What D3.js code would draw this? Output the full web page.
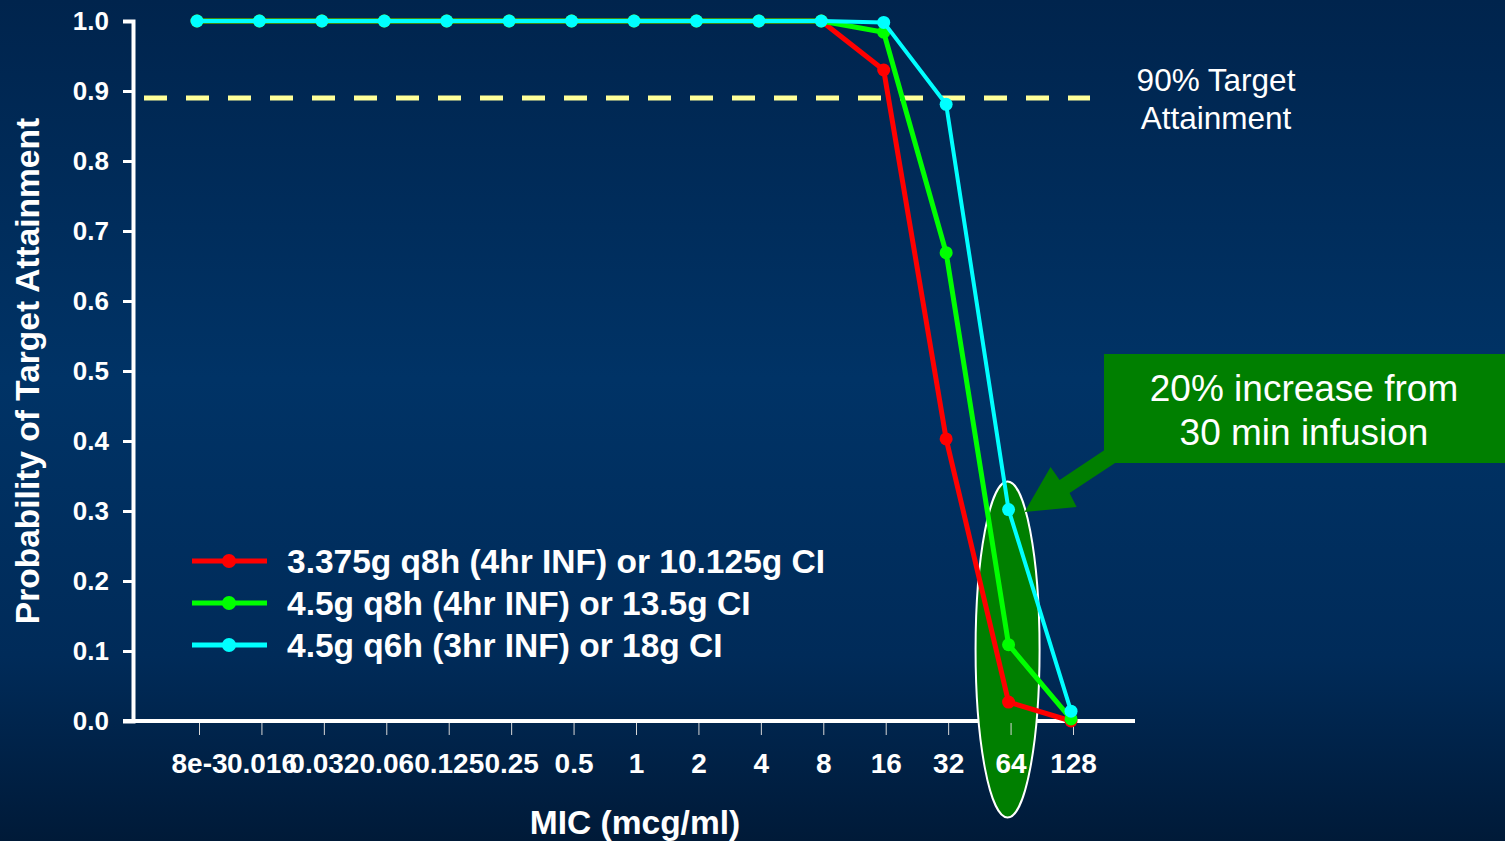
<!DOCTYPE html>
<html>
<head>
<meta charset="utf-8">
<script src="https://cdn.jsdelivr.net/npm/d3@7"></script>
<style>
  html, body { margin: 0; padding: 0; overflow: hidden; }
  svg { display: block; font-family: "Liberation Sans", Arial, sans-serif; }
</style>
</head>
<body>
<div id="chart"></div>
<script>
// MIC categories (x axis)
var micLabels = ["8e-3", "0.016", "0.032", "0.06", "0.125", "0.25", "0.5", "1", "2", "4", "8", "16", "32", "64", "128"];

// probability of target attainment per regimen
var red_values   = [1, 1, 1, 1, 1, 1, 1, 1, 1, 1, 1, 0.93, 0.403, 0.027, 0.0];
var green_values = [1, 1, 1, 1, 1, 1, 1, 1, 1, 1, 1, 0.984, 0.669, 0.109, 0.003];
var cyan_values  = [1, 1, 1, 1, 1, 1, 1, 1, 1, 1, 1, 0.998, 0.881, 0.302, 0.014];

var seriesNames = ["3.375g q8h (4hr INF) or 10.125g CI", "4.5g q8h (4hr INF) or 13.5g CI", "4.5g q6h (3hr INF) or 18g CI"];
var seriesColors = ["#ff0000", "#00ff00", "#00ffff"];
var seriesWidths = [5, 5, 4];

var yTicks = [0, 0.1, 0.2, 0.3, 0.4, 0.5, 0.6, 0.7, 0.8, 0.9, 1.0];
var targetLevel = 0.89;

var width = 1505, height = 841;

var svg = d3.select("#chart").append("svg")
  .attr("width", width)
  .attr("height", height);

// background gradient
var defs = svg.append("defs");
var grad = defs.append("linearGradient")
  .attr("id", "bg").attr("x1", 0).attr("y1", 0).attr("x2", 0).attr("y2", 1);
grad.append("stop").attr("offset", "0%").attr("stop-color", "#00244d");
grad.append("stop").attr("offset", "45%").attr("stop-color", "#003366");
grad.append("stop").attr("offset", "78%").attr("stop-color", "#002b59");
grad.append("stop").attr("offset", "100%").attr("stop-color", "#001a38");
svg.append("rect").attr("width", width).attr("height", height).attr("fill", "url(#bg)");

// scales
var x = d3.scalePoint().domain(micLabels).range([197, 1071]);
var y = d3.scaleLinear().domain([0, 1]).range([721, 21]);
var axisX = 133;

// y axis
var yAxis = svg.append("g")
  .attr("transform", "translate(" + axisX + ",0)")
  .call(d3.axisLeft(y).tickValues(yTicks).tickSize(10).tickPadding(14).tickFormat(d3.format(".1f")));
yAxis.select(".domain").attr("stroke", "#fff").attr("stroke-width", 4);
yAxis.selectAll(".tick line").attr("stroke", "#fff").attr("stroke-width", 3);
yAxis.selectAll(".tick text")
  .attr("fill", "#fff")
  .style("font-size", "26px")
  .style("font-weight", "bold")
  .style("font-family", "'Liberation Sans', Arial, sans-serif");

// x axis base line
svg.append("line")
  .attr("x1", axisX - 10).attr("x2", x(micLabels[micLabels.length - 1]) + 64)
  .attr("y1", y(0)).attr("y2", y(0))
  .attr("stroke", "#fff").attr("stroke-width", 4);

// highlight ellipse around MIC 64
svg.append("ellipse")
  .attr("cx", x("64") - 1)
  .attr("cy", y(0.102))
  .attr("rx", 32)
  .attr("ry", 168)
  .attr("fill", "#007f00")
  .attr("stroke", "#fff")
  .attr("stroke-width", 2);

// x axis ticks + labels
var xAxis = svg.append("g")
  .attr("transform", "translate(2," + (y(0) + 2) + ")")
  .call(d3.axisBottom(x).tickSize(12).tickSizeOuter(0).tickPadding(18));
xAxis.select(".domain").remove();
xAxis.selectAll(".tick line").attr("stroke", "#d8d8d8").attr("stroke-width", 1);
xAxis.selectAll(".tick text")
  .attr("fill", "#fff")
  .style("font-size", "28px")
  .style("font-weight", "bold")
  .style("font-family", "'Liberation Sans', Arial, sans-serif");

// axis titles
svg.append("text")
  .attr("transform", "translate(39," + y(0.5) + ") rotate(-90)")
  .attr("text-anchor", "middle")
  .attr("fill", "#fff")
  .style("font-size", "33.5px")
  .style("font-weight", "bold")
  .text("Probability of Target Attainment");

svg.append("text")
  .attr("x", 635)
  .attr("y", 834)
  .attr("text-anchor", "middle")
  .attr("fill", "#fff")
  .style("font-size", "33.5px")
  .style("font-weight", "bold")
  .text("MIC (mcg/ml)");

// 90% target line
svg.append("line")
  .attr("x1", 144).attr("x2", 1090)
  .attr("y1", y(targetLevel)).attr("y2", y(targetLevel))
  .attr("stroke", "#ffff99")
  .attr("stroke-width", 5)
  .attr("stroke-dasharray", "23,19");

var targetLabel = svg.append("text")
  .attr("x", 1216)
  .attr("y", 91)
  .attr("text-anchor", "middle")
  .attr("fill", "#fff")
  .style("font-size", "31.5px");
targetLabel.append("tspan").attr("x", 1216).text("90% Target");
targetLabel.append("tspan").attr("x", 1216).attr("dy", 38).text("Attainment");

// callout box + arrow
var tipX = x("64") + 16, tipY = y(0.3) + 1;
var arrowPts = [[0, 0], [26, -45], [35, -32], [80, -62], [92, -50], [45, -19], [52, -5]];
svg.append("polygon")
  .attr("points", arrowPts.map(function (p) { return (tipX + p[0]) + "," + (tipY + p[1]); }).join(" "))
  .attr("fill", "#007f00");

svg.append("rect")
  .attr("x", 1104).attr("y", 354)
  .attr("width", 401).attr("height", 109)
  .attr("fill", "#007f00");

var boxText = svg.append("text")
  .attr("text-anchor", "middle")
  .attr("fill", "#fff")
  .style("font-size", "37px");
boxText.append("tspan").attr("x", 1304).attr("y", 401).text("20% increase from");
boxText.append("tspan").attr("x", 1304).attr("y", 445).text("30 min infusion");

// series
var allSeries = [red_values, green_values, cyan_values];
var line = d3.line()
  .x(function (d, i) { return x(micLabels[i]); })
  .y(function (d) { return y(d); });

allSeries.forEach(function (values, s) {
  var g = svg.append("g");
  g.append("path")
    .datum(values)
    .attr("d", line)
    .attr("fill", "none")
    .attr("stroke", seriesColors[s])
    .attr("stroke-width", seriesWidths[s])
    .attr("stroke-linejoin", "round");
  g.selectAll("circle")
    .data(values)
    .enter()
    .append("circle")
    .attr("cx", function (d, i) { return x(micLabels[i]); })
    .attr("cy", function (d) { return y(d); })
    .attr("r", 6.5)
    .attr("fill", seriesColors[s]);
});

// legend
var legend = svg.append("g").attr("transform", "translate(192,561)");
seriesNames.forEach(function (name, i) {
  var row = legend.append("g").attr("transform", "translate(0," + i * 42 + ")");
  row.append("line")
    .attr("x1", 0).attr("x2", 75)
    .attr("stroke", seriesColors[i])
    .attr("stroke-width", 5);
  row.append("circle")
    .attr("cx", 37).attr("r", 7)
    .attr("fill", seriesColors[i]);
  row.append("text")
    .attr("x", 95)
    .attr("dy", "0.35em")
    .attr("fill", "#fff")
    .style("font-size", "33.5px")
    .style("font-weight", "bold")
    .text(name);
});
</script>
</body>
</html>
